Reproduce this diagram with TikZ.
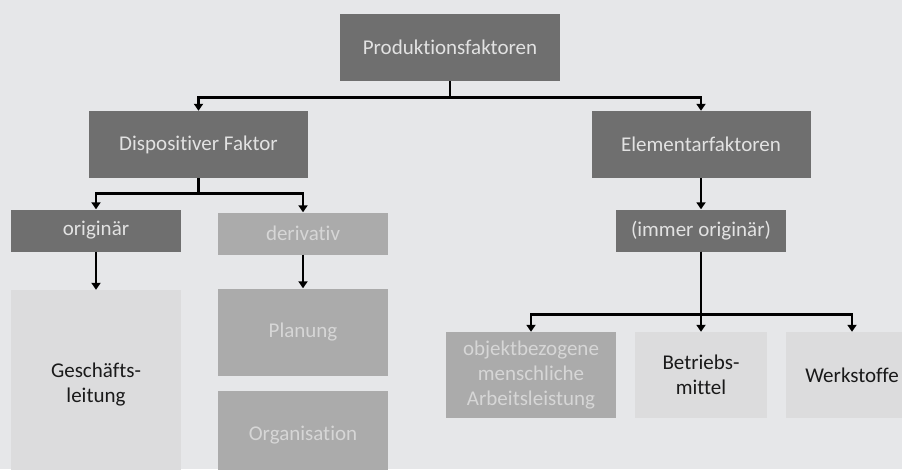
\documentclass[tikz,border=0pt]{standalone}
\usepackage{fontspec}
\setmainfont[Ligatures={NoCommon}]{Carlito}
\usetikzlibrary{arrows.meta}
\definecolor{bg}{HTML}{E6E7E9}
\definecolor{dark}{HTML}{6F6F6F}
\definecolor{mid}{HTML}{ABABAB}
\definecolor{light}{HTML}{DCDCDD}
\definecolor{darktext}{HTML}{E2E2E2}
\definecolor{midtext}{HTML}{D6D6D6}
\definecolor{lighttext}{HTML}{1A1A1A}
\tikzset{
  box/.style={rectangle, inner sep=0pt, align=center, font=\fontsize{21}{25}\selectfont},
  darkbox/.style={box, fill=dark, text=darktext},
  midbox/.style={box, fill=mid, text=midtext},
  lightbox/.style={box, fill=light, text=lighttext},
  arr/.style={line width=2.6pt, -{Triangle[width=9pt,length=7pt]}},
}
\begin{document}
\begin{tikzpicture}[x=1pt,y=-1pt]
\useasboundingbox (0,0) rectangle (902,469);
\fill[bg] (0,0) rectangle (902,469);
\clip (0,0) rectangle (902,469);
\node[darkbox, minimum width=220pt, minimum height=67pt] (prod) at (450,47.5) {Produktionsfaktoren};
\node[darkbox, minimum width=219pt, minimum height=67pt] (disp) at (198.5,144.5) {Dispositiver Faktor};
\node[darkbox, minimum width=219pt, minimum height=67pt] (elem) at (701,144.5) {Elementarfaktoren};
\node[darkbox, minimum width=170pt, minimum height=42pt] (orig) at (96,230.5) {originär};
\node[midbox, minimum width=170pt, minimum height=42pt] (deriv) at (303,233.5) {derivativ};
\node[darkbox, minimum width=170pt, minimum height=42pt] (imm) at (701,230.5) {(immer originär)};
\node[lightbox, minimum width=170pt, minimum height=190pt] (gesch) at (96,385) {Geschäfts-\\leitung};
\node[midbox, minimum width=170pt, minimum height=87pt] (plan) at (303,332) {Planung};
\node[midbox, minimum width=170pt, minimum height=89pt] (org) at (303,435.5) {Organisation};
\node[midbox, minimum width=170pt, minimum height=86pt] (obj) at (531,375) {objektbezogene\\menschliche\\Arbeitsleistung};
\node[lightbox, minimum width=132pt, minimum height=86pt] (betr) at (701,375) {Betriebs-\\mittel};
\node[lightbox, minimum width=132pt, minimum height=86pt] (werk) at (852,375) {Werkstoffe};
\draw[arr] (prod.south) -- ++(0,16) -| (disp.north);
\draw[arr] (prod.south) -- ++(0,16) -| (elem.north);
\draw[arr] (disp.south) -- ++(0,15) -| (orig.north);
\draw[arr] (disp.south) -- ++(0,15) -| (deriv.north);
\draw[arr] (elem.south) -- (imm.north);
\draw[arr] (orig.south) -- (gesch.north);
\draw[arr] (deriv.south) -- (plan.north);
\draw[arr] (imm.south) -- ++(0,63) -| (obj.north);
\draw[arr] (imm.south) -- (betr.north);
\draw[arr] (imm.south) -- ++(0,63) -| (werk.north);
\end{tikzpicture}
\end{document}
